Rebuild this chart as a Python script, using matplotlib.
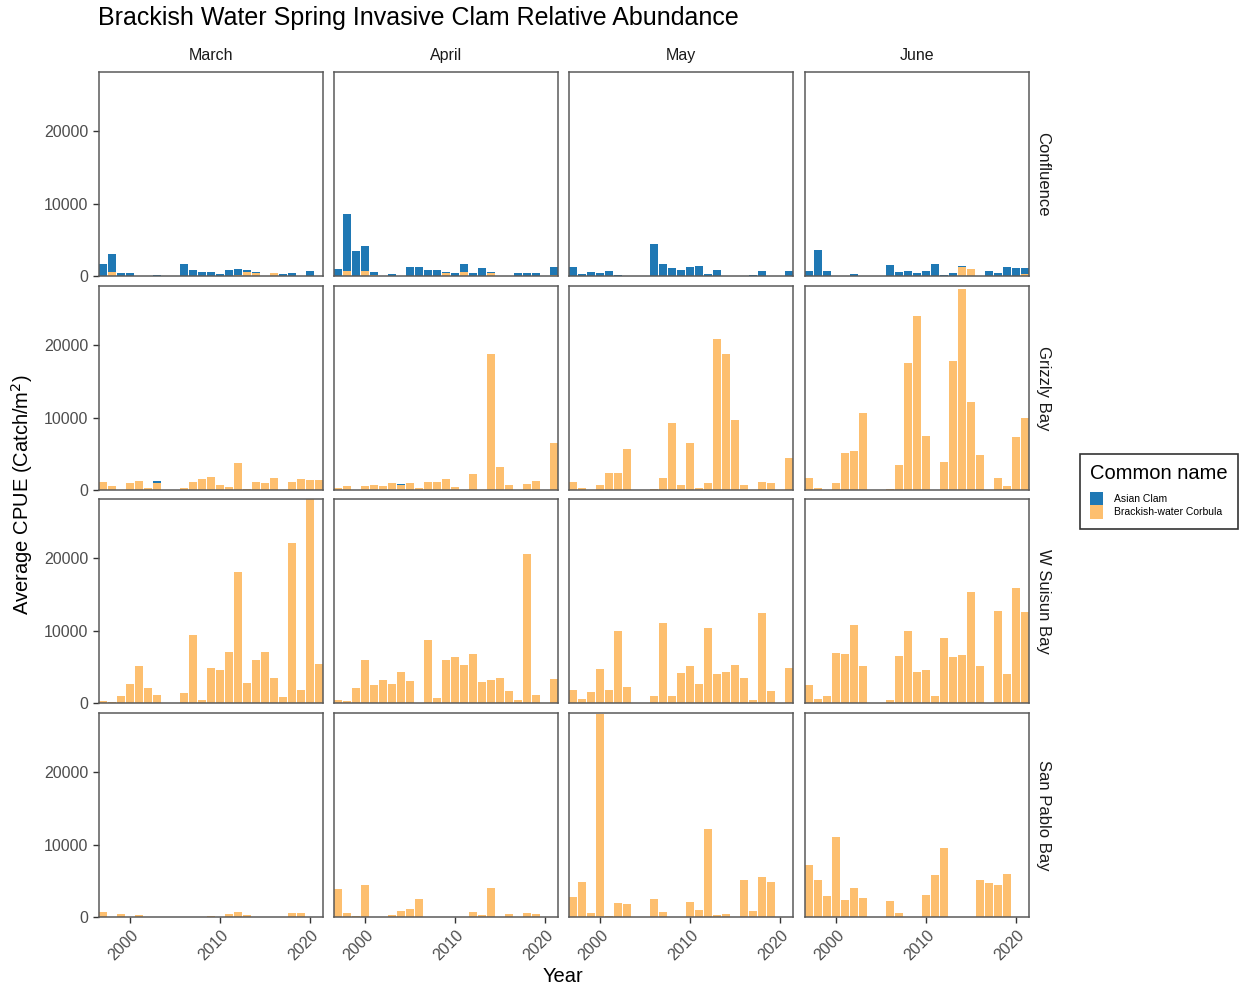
import numpy as np
import matplotlib.pyplot as plt
from matplotlib.patches import Patch
from matplotlib.transforms import ScaledTranslation

plt.rcParams['font.family'] = ['Liberation Sans', 'DejaVu Sans']

# ---------- DATA (Average CPUE, catch/m2) ----------
years = list(range(1997, 2022))
months = ["March", "April", "May", "June"]
locations = ["Confluence", "Grizzly Bay", "W Suisun Bay", "San Pablo Bay"]
species = ["Asian Clam", "Brackish-water Corbula"]
colors = ["#1F78B4", "#FDBF6F"]

# Confluence
conf_mar_asian = [1700, 2400, 370, 370, 0, 0, 150, 0, 0, 1600, 830, 550, 550, 320, 780, 720, 320, 80, 0, 0, 230, 370, 0, 740, 0]
conf_mar_corb = [0, 600, 0, 0, 0, 0, 0, 0, 0, 0, 0, 0, 0, 0, 0, 200, 550, 470, 0, 460, 0, 0, 0, 0, 0]
conf_apr_asian = [920, 7800, 3400, 3400, 400, 0, 230, 0, 1290, 1200, 870, 780, 150, 410, 1200, 410, 1060, 150, 0, 0, 410, 410, 410, 0, 1100]
conf_apr_corb = [0, 700, 0, 700, 100, 0, 0, 0, 0, 0, 0, 0, 350, 0, 500, 0, 0, 400, 0, 0, 0, 0, 0, 0, 100]
conf_may_asian = [1200, 320, 550, 370, 690, 180, 0, 0, 0, 4370, 1600, 1060, 830, 1200, 1420, 320, 830, 0, 0, 0, 180, 740, 0, 0, 690]
conf_may_corb = [0] * 25
conf_jun_asian = [740, 3630, 740, 0, 0, 230, 0, 0, 0, 1470, 550, 740, 410, 640, 1700, 180, 460, 100, 0, 0, 740, 410, 1200, 1100, 800]
conf_jun_corb = [0, 0, 0, 0, 0, 0, 0, 0, 0, 0, 0, 0, 0, 0, 0, 0, 0, 1300, 920, 0, 0, 0, 0, 0, 300]

# Grizzly Bay
griz_mar_asian = [0, 0, 0, 0, 0, 0, 250, 0, 0, 0, 0, 0, 0, 0, 0, 0, 0, 0, 0, 0, 0, 0, 0, 0, 0]
griz_mar_corb = [1060, 500, 0, 920, 1240, 320, 1000, 0, 0, 320, 1150, 1470, 1750, 690, 460, 3680, 180, 1100, 920, 1610, 0, 1150, 1520, 1430, 1430]
griz_apr_asian = [0, 0, 0, 0, 0, 0, 0, 150, 0, 0, 0, 0, 0, 0, 0, 0, 0, 0, 0, 0, 0, 0, 0, 0, 0]
griz_apr_corb = [320, 550, 0, 550, 740, 600, 970, 720, 970, 320, 1100, 1100, 1520, 460, 0, 2160, 0, 18800, 3130, 690, 0, 780, 1200, 0, 6440]
griz_may_corb = [1100, 320, 0, 690, 2340, 2340, 5610, 0, 0, 180, 1610, 9240, 740, 6530, 320, 920, 20780, 18760, 9610, 690, 0, 1060, 920, 0, 4370]
griz_jun_corb = [1610, 320, 0, 920, 5060, 5380, 10570, 0, 0, 180, 3490, 17520, 23950, 7400, 0, 3860, 17750, 27800, 12090, 4830, 0, 1660, 500, 7310, 9890]

# W Suisun Bay
wsui_mar_corb = [230, 140, 970, 2620, 5150, 2020, 1060, 0, 0, 1330, 9400, 460, 4790, 4560, 7100, 18110, 2810, 5940, 7000, 3410, 780, 22070, 1800, 28150, 5390]
wsui_apr_corb = [370, 230, 2030, 5990, 2490, 3130, 2580, 4240, 3040, 0, 8760, 650, 5900, 6310, 5250, 6820, 2860, 3230, 3410, 1660, 460, 20510, 1060, 0, 3360]
wsui_may_corb = [1800, 600, 1470, 4700, 1750, 10000, 2260, 0, 0, 1010, 11010, 970, 4100, 5160, 2630, 10370, 4060, 4290, 5250, 3500, 370, 12440, 1660, 0, 4790]
wsui_jun_corb = [2490, 510, 970, 6870, 6730, 10740, 5160, 0, 0, 410, 6500, 9950, 4290, 4610, 1010, 8990, 6360, 6590, 15300, 5070, 0, 12720, 4010, 15810, 12530]

# San Pablo Bay
spab_mar_corb = [650, 0, 420, 0, 280, 0, 0, 0, 0, 0, 0, 0, 140, 0, 420, 740, 280, 0, 0, 0, 0, 510, 600, 0, 0]
spab_apr_corb = [3800, 510, 190, 4400, 0, 0, 230, 830, 1110, 2550, 0, 0, 0, 0, 0, 740, 230, 4070, 0, 420, 0, 600, 420, 0, 0]
spab_may_corb = [2820, 4770, 600, 28050, 190, 1990, 1850, 0, 0, 2500, 650, 0, 0, 2040, 930, 12180, 280, 420, 0, 5090, 880, 5460, 4770, 0, 0]
spab_jun_corb = [7220, 5090, 2920, 11060, 2310, 3940, 2690, 0, 0, 2270, 600, 0, 0, 3010, 5830, 9540, 0, 0, 0, 5050, 4680, 4400, 5970, 0, 0]

zeros = [0] * len(years)
asian = {
    ("Confluence", "March"): conf_mar_asian, ("Confluence", "April"): conf_apr_asian,
    ("Confluence", "May"): conf_may_asian, ("Confluence", "June"): conf_jun_asian,
    ("Grizzly Bay", "March"): griz_mar_asian, ("Grizzly Bay", "April"): griz_apr_asian,
}
corbula = {
    ("Confluence", "March"): conf_mar_corb, ("Confluence", "April"): conf_apr_corb,
    ("Confluence", "May"): conf_may_corb, ("Confluence", "June"): conf_jun_corb,
    ("Grizzly Bay", "March"): griz_mar_corb, ("Grizzly Bay", "April"): griz_apr_corb,
    ("Grizzly Bay", "May"): griz_may_corb, ("Grizzly Bay", "June"): griz_jun_corb,
    ("W Suisun Bay", "March"): wsui_mar_corb, ("W Suisun Bay", "April"): wsui_apr_corb,
    ("W Suisun Bay", "May"): wsui_may_corb, ("W Suisun Bay", "June"): wsui_jun_corb,
    ("San Pablo Bay", "March"): spab_mar_corb, ("San Pablo Bay", "April"): spab_apr_corb,
    ("San Pablo Bay", "May"): spab_may_corb, ("San Pablo Bay", "June"): spab_jun_corb,
}

# ---------- LAYOUT (pixels) ----------
W, H = 1244, 991
col_left = [99, 334, 569, 805]
row_top = [72, 286, 499, 713]
pw, ph = 224, 204

def fig_box(left, top, w, h):
    return [left / W, 1 - (top + h) / H, w / W, h / H]

# stacked totals set the top of the y axis (no expansion, like the original)
ymax = max((np.array(asian.get(k, zeros)) + np.array(v)).max() for k, v in corbula.items())

fig = plt.figure(figsize=(W / 100, H / 100), dpi=100)
tick_col = "#4D4D4D"
border_col = "#5A5A5A"
shift = ScaledTranslation(-6 / 100, 0, fig.dpi_scale_trans)

for r, loc in enumerate(locations):
    for c, mon in enumerate(months):
        ax = fig.add_axes(fig_box(col_left[c], row_top[r], pw, ph))
        corb = np.array(corbula[(loc, mon)])
        asia = np.array(asian.get((loc, mon), zeros))
        ax.bar(years, corb, width=0.9, color=colors[1], linewidth=0)
        ax.bar(years, asia, width=0.9, bottom=corb, color=colors[0], linewidth=0)
        ax.set_xlim(1996.55, 2021.45)
        ax.set_ylim(0, ymax)
        for s in ax.spines.values():
            s.set_color(border_col)
            s.set_linewidth(1.1)
        ax.tick_params(colors="#333333", labelcolor=tick_col, labelsize=11.5, length=4, width=1)
        if c == 0:
            ax.set_yticks([0, 10000, 20000])
            ax.set_yticklabels(["0", "10000", "20000"])
        else:
            ax.set_yticks([])
        if r == len(locations) - 1:
            ax.set_xticks([2000, 2010, 2020])
            ax.set_xticklabels(["2000", "2010", "2020"], rotation=45, ha="center", va="top")
            for lab in ax.get_xticklabels():
                lab.set_transform(lab.get_transform() + shift)
        else:
            ax.set_xticks([])
        if r == 0:
            ax.text(0.5, 1.0 + 16 / ph, mon, transform=ax.transAxes, ha="center", va="center",
                    fontsize=11.5, color="#1A1A1A")
        if c == len(months) - 1:
            ax.text(1.0 + 14 / pw, 0.5, loc, transform=ax.transAxes, ha="center", va="center",
                    rotation=270, fontsize=12, color="#1A1A1A")

fig.text(98 / W, 1 - 18 / H, "Brackish Water Spring Invasive Clam Relative Abundance",
         ha="left", va="center", fontsize=18, color="black")
fig.text(22 / W, 1 - 495 / H, "Average CPUE (Catch/m$^2$)", rotation=90,
         ha="center", va="center", fontsize=14.5)
fig.text(563 / W, 1 - 976 / H, "Year", ha="center", va="center", fontsize=14.5)

handles = [Patch(facecolor=colors[0], edgecolor="none"), Patch(facecolor=colors[1], edgecolor="none")]
leg = fig.legend(handles, species, title="Common name", loc="upper left",
                 bbox_to_anchor=(1080 / W, 1 - 454 / H), fontsize=7.5, title_fontsize=14.5,
                 frameon=True, fancybox=False, edgecolor="black", handlelength=1.25,
                 handleheight=1.6, labelspacing=0.0, handletextpad=1.0, borderpad=1.0,
                 borderaxespad=0)
leg.get_frame().set_linewidth(1.2)
leg._legend_box.align = "left"
leg._legend_box.sep = 6

fig.savefig("out.png", dpi=100)
